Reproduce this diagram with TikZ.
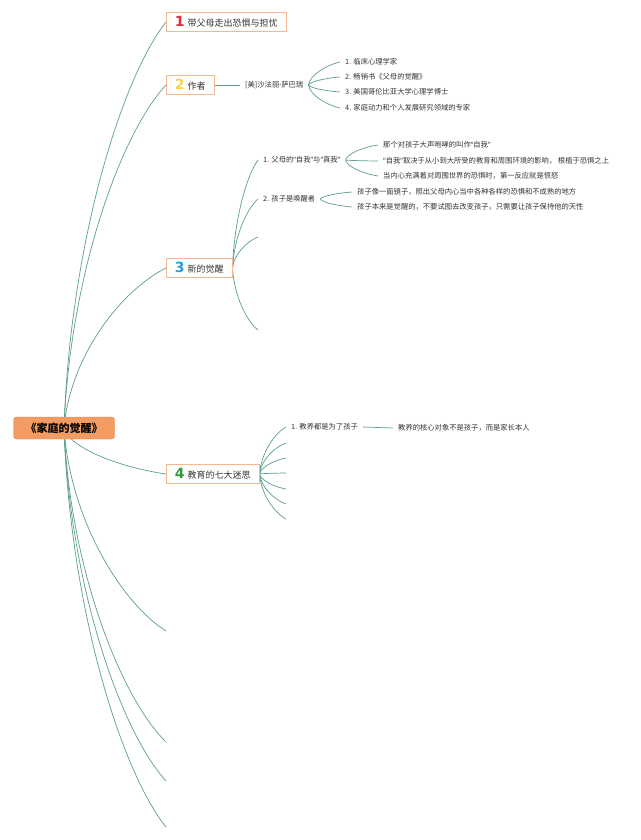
\documentclass[tikz,border=0pt]{standalone}
\usepackage{fontspec}
\setmainfont{Noto Sans CJK SC}
\newfontfamily\numfont{DejaVu Sans}
\newfontfamily\latfont{Noto Sans}
\usetikzlibrary{calc,backgrounds}
\definecolor{mmteal}{HTML}{5E9E8F}
\definecolor{mmorange}{HTML}{F29B62}
\definecolor{mmorange2}{HTML}{E68A4F}
\definecolor{mmedge}{HTML}{F4B992}
\definecolor{mmred}{HTML}{E22B3C}
\definecolor{mmyellow}{HTML}{F3D54B}
\definecolor{mmblue}{HTML}{2A9CDB}
\definecolor{mmgreen}{HTML}{2E9B3C}
\definecolor{mmtext}{HTML}{333333}
\tikzset{
  rootbox/.style={draw=mmorange2,fill=mmorange,rounded corners=3pt,minimum width=101pt,minimum height=22pt,font=\fontsize{11}{13}\selectfont\bfseries},
  topic/.style={draw=mmedge,fill=white,line width=0.8pt,minimum height=19pt,inner xsep=8.5pt,inner ysep=0pt,anchor=west,font=\fontsize{9}{11}\selectfont,text=mmtext},
  leaf/.style={inner xsep=5pt,inner ysep=1pt,anchor=west,font=\fontsize{7.3}{9}\selectfont,text=mmtext},
  twig/.style={draw=mmteal,line width=0.7pt},
  curvy/.style={to path={let \p1=(\tikztostart),\p2=(\tikztotarget) in .. controls (\x1+0.06*\x2-0.06*\x1,\y1+0.45*\y2-0.45*\y1) and (\x2-0.44*\x2+0.44*\x1,\y2-0.14*\y2+0.14*\y1) .. (\tikztotarget)}}
}
\newcommand\topicnum[2]{{\numfont\bfseries\fontsize{14}{14}\selectfont\color{#1}#2}\hspace{3pt}}
\newcommand\qt[1]{{\latfont “}#1{\latfont ”}}
\begin{document}
\begin{tikzpicture}[x=1pt,y=-1pt]
  \useasboundingbox (0,0) rectangle (640,840);
  \node[rootbox] (root) at (64,428) {《家庭的觉醒》};
  \node[topic] (t1) at (166,22) {\topicnum{mmred}{1}带父母走出恐惧与担忧};
  \node[topic] (t2) at (166,85) {\topicnum{mmyellow}{2}作者};
  \node[topic] (t3) at (166,268) {\topicnum{mmblue}{3}新的觉醒};
  \node[topic] (t4) at (166,474) {\topicnum{mmgreen}{4}教育的七大迷思};
  \foreach \i/\y in {5/631,6/742,7/781,8/827}
    \coordinate (t\i) at (166,\y);

  \node[leaf] (author) at (240,85) {[美]沙法丽{\latfont ·}萨巴瑞};
  \foreach \i/\y/\lab in {
    1/62/{1. 临床心理学家},
    2/77/{2. 畅销书《父母的觉醒》},
    3/92/{3. 美国哥伦比亚大学心理学博士},
    4/108/{4. 家庭动力和个人发展研究领域的专家}}
    {\node[leaf] (a\i) at (340,\y) {\lab};}

  \node[leaf] (w1) at (258,160) {1. 父母的\qt{自我}与\qt{真我}};
  \node[leaf] (w2) at (258,199) {2. 孩子是唤醒者};
  \coordinate (w3) at (258,237);
  \coordinate (w4) at (258,330);
  \foreach \i/\y/\lab in {
    1/145/{那个对孩子大声咆哮的叫作\qt{自我}},
    2/161/{\qt{自我}取决于从小到大所受的教育和周围环境的影响， 根植于恐惧之上},
    3/176/{当内心充满着对周围世界的恐惧时，第一反应就是愤怒}}
    {\node[leaf] (k\i) at (378,\y) {\lab};}
  \foreach \i/\y/\lab in {
    1/192/{孩子像一面镜子，照出父母内心当中各种各样的恐惧和不成熟的地方},
    2/207/{孩子本来是觉醒的，不要试图去改变孩子，只需要让孩子保持他的天性}}
    {\node[leaf] (q\i) at (352,\y) {\lab};}

  \node[leaf] (m1) at (286,427) {1. 教养都是为了孩子};
  \node[leaf] (m1a) at (393,428) {教养的核心对象不是孩子，而是家长本人};
  \foreach \i/\y in {2/443,3/458,4/473,5/489,6/504,7/519}
    \coordinate (m\i) at (286,\y);

  \begin{scope}[on background layer]
    \fill[white] (0,0) rectangle (640,840);
    \foreach \e in {t1.west,t2.west,t3.west,t4.west,t5,t6,t7,t8}
      \draw[twig] (root.center) to[curvy] (\e);
    \draw[twig] (t2.east) -- (author.west);
    \foreach \e in {a1,a2,a3,a4}
      \draw[twig] (author.east) to[curvy] (\e.west);
    \foreach \e in {w1.west,w2.west,w3,w4}
      \draw[twig] (t3.east) to[curvy] (\e);
    \foreach \e in {k1,k2,k3}
      \draw[twig] (w1.east) to[curvy] (\e.west);
    \foreach \e in {q1,q2}
      \draw[twig] (w2.east) to[curvy] (\e.west);
    \foreach \e in {m1.west,m2,m3,m4,m5,m6,m7}
      \draw[twig] (t4.east) to[curvy] (\e);
    \draw[twig] (m1.east) -- (m1a.west);
  \end{scope}
\end{tikzpicture}
\end{document}
